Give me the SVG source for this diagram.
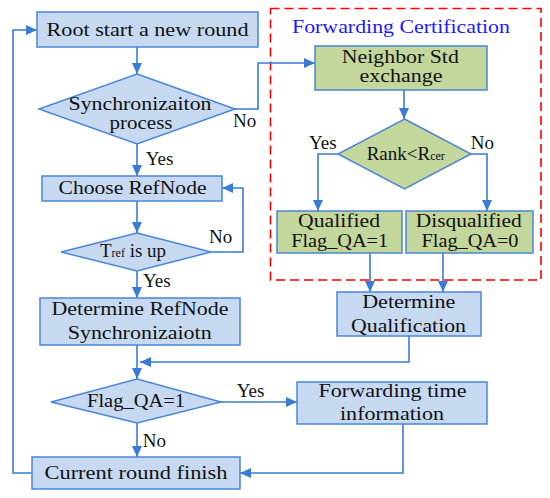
<svg xmlns="http://www.w3.org/2000/svg" width="550" height="498" viewBox="0 0 550 498">
<defs>
<marker id="ah" markerUnits="userSpaceOnUse" markerWidth="12" markerHeight="10" refX="11" refY="5" orient="auto">
<path d="M0,0 L11,5 L0,10 Z" fill="#3a7bd5"/>
</marker>
<style>
.b{fill:#c6d9f1;stroke:#4a86d8;stroke-width:1.5}
.g{fill:#c3d69b;stroke:#4a86d8;stroke-width:1.5}
.t{font-size:19px;fill:#111;text-anchor:middle}
.l{font-size:19px;fill:#111}
.c{fill:none;stroke:#3a7bd5;stroke-width:1.6}
.a{marker-end:url(#ah)}
</style>
</defs>
<rect width="550" height="498" fill="#fff"/>
<g font-family="Liberation Serif, DejaVu Serif, serif">
<g id="cert-frame">
<rect x="270.5" y="8.5" width="270.5" height="271.5" fill="none" stroke="#ff0000" stroke-width="1.6" stroke-dasharray="9,5"/>
<text x="401" y="33" class="t" style="fill:#1a1aff" textLength="218" lengthAdjust="spacingAndGlyphs">Forwarding Certification</text>
</g>
<g id="connectors">
<path class="c a" d="M137,47 V74"/>
<path class="c a" d="M235,109 H258 V63 H315"/>
<path class="c a" d="M137,144 V176"/>
<path class="c a" d="M137,201 V233"/>
<path class="c a" d="M211,252 H243 V188 H222"/>
<path class="c a" d="M137,271 V298"/>
<path class="c a" d="M137,345 V379"/>
<path class="c a" d="M409,336 V362 H140"/>
<path class="c a" d="M221,402 H297"/>
<path class="c a" d="M137,423 V457"/>
<path class="c a" d="M403,424 V473 H240"/>
<path class="c a" d="M32,473 H13 V30 H37"/>
<path class="c a" d="M404,90 V119"/>
<path class="c a" d="M338,154 H318 V211"/>
<path class="c a" d="M471,154 H487 V211"/>
<path class="c a" d="M370,253 V292"/>
<path class="c a" d="M443,253 V292"/>
</g>
<g id="root">
<rect class="b" x="37" y="12" width="221" height="35"/>
<text class="t" x="147.5" y="36" textLength="202" lengthAdjust="spacingAndGlyphs">Root start a new round</text>
</g>
<g id="sync">
<polygon class="b" points="137,74 235,109 137,144 39,109"/>
<text class="t" x="140" y="110" textLength="143" lengthAdjust="spacingAndGlyphs">Synchronizaiton</text>
<text class="t" x="141" y="129" textLength="63" lengthAdjust="spacingAndGlyphs">process</text>
</g>
<g id="choose">
<rect class="b" x="42" y="176" width="180" height="25"/>
<text class="t" x="132.5" y="194" textLength="148" lengthAdjust="spacingAndGlyphs">Choose RefNode</text>
</g>
<g id="tref">
<polygon class="b" points="137,233 211,252 137,271 61,252"/>
<text class="l" x="100" y="257">T<tspan font-size="12">ref</tspan> is up</text>
</g>
<g id="determine-ref">
<rect class="b" x="40" y="298" width="200" height="47"/>
<text class="t" x="140" y="315" textLength="177" lengthAdjust="spacingAndGlyphs">Determine RefNode</text>
<text class="t" x="139.7" y="339" textLength="144" lengthAdjust="spacingAndGlyphs">Synchronizaiotn</text>
</g>
<g id="flag">
<polygon class="b" points="137,379 221,402 137,423 51,402"/>
<text class="t" x="136" y="407" textLength="98" lengthAdjust="spacingAndGlyphs">Flag_QA=1</text>
</g>
<g id="current">
<rect class="b" x="32" y="457" width="208" height="32"/>
<text class="t" x="136" y="479" textLength="183" lengthAdjust="spacingAndGlyphs">Current round finish</text>
</g>
<g id="forwarding">
<rect class="b" x="297" y="382" width="190" height="42"/>
<text class="t" x="392.5" y="397" textLength="148" lengthAdjust="spacingAndGlyphs">Forwarding time</text>
<text class="t" x="392" y="420" textLength="104" lengthAdjust="spacingAndGlyphs">information</text>
</g>
<g id="determine-qual">
<rect class="b" x="337" y="292" width="144" height="44"/>
<text class="t" x="408.7" y="308" textLength="93" lengthAdjust="spacingAndGlyphs">Determine</text>
<text class="t" x="408.5" y="332" textLength="115" lengthAdjust="spacingAndGlyphs">Qualification</text>
</g>
<g id="neighbor">
<rect class="g" x="315" y="46" width="172" height="44"/>
<text class="t" x="400.3" y="63" textLength="117" lengthAdjust="spacingAndGlyphs">Neighbor Std</text>
<text class="t" x="401" y="82" textLength="83" lengthAdjust="spacingAndGlyphs">exchange</text>
</g>
<g id="rank">
<polygon class="g" points="404.5,119 471,154 404.5,189 338,154"/>
<text class="l" x="366.7" y="160">Rank&lt;R<tspan font-size="12">cer</tspan></text>
</g>
<g id="qualified">
<rect class="g" x="277" y="211" width="125" height="42"/>
<text class="t" x="339" y="227" textLength="82" lengthAdjust="spacingAndGlyphs">Qualified</text>
<text class="t" x="339.7" y="247" textLength="97" lengthAdjust="spacingAndGlyphs">Flag_QA=1</text>
</g>
<g id="disqualified">
<rect class="g" x="406" y="211" width="127" height="42"/>
<text class="t" x="468.7" y="227" textLength="106" lengthAdjust="spacingAndGlyphs">Disqualified</text>
<text class="t" x="470" y="247" textLength="97" lengthAdjust="spacingAndGlyphs">Flag_QA=0</text>
</g>
<g id="labels">
<text class="l" x="233" y="127">No</text>
<text class="l" x="145.7" y="165">Yes</text>
<text class="l" x="209" y="243">No</text>
<text class="l" x="143" y="287">Yes</text>
<text class="l" x="236.7" y="397">Yes</text>
<text class="l" x="142.7" y="447">No</text>
<text class="l" x="309" y="149">Yes</text>
<text class="l" x="470.7" y="149">No</text>
</g>
</g>
</svg>
